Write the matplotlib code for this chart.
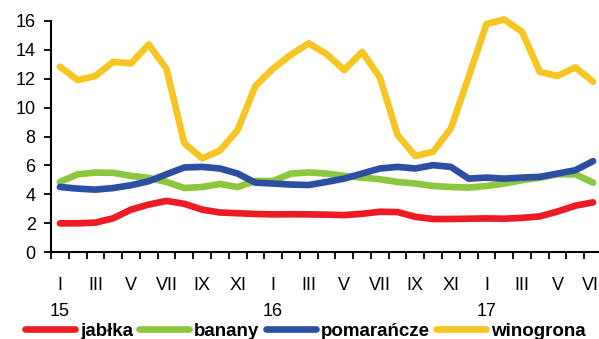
import matplotlib
matplotlib.use("Agg")
import matplotlib.pyplot as plt
from matplotlib.lines import Line2D

# ---- data ----
month_labels = ["I", "III", "V", "VII", "IX", "XI"] * 2 + ["I", "III", "V", "VII"]
year_labels = ["15", "16", "17"]
series_names = ["jabłka", "banany", "pomarańcze", "winogrona"]

jablka = [2.0, 2.0, 2.05, 2.35, 2.95, 3.3, 3.55, 3.35, 2.95, 2.75, 2.7, 2.65, 2.62, 2.63, 2.62,
          2.6, 2.57, 2.66, 2.8, 2.78, 2.45, 2.3, 2.3, 2.32, 2.34, 2.32, 2.38, 2.48, 2.82, 3.22, 3.45]
banany = [4.86, 5.39, 5.51, 5.49, 5.28, 5.14, 4.86, 4.44, 4.51, 4.72, 4.51, 4.93, 4.93, 5.44, 5.52,
          5.44, 5.28, 5.16, 5.05, 4.86, 4.75, 4.58, 4.51, 4.47, 4.58, 4.75, 4.98, 5.16, 5.39, 5.39, 4.81]
pomarancze = [4.51, 4.40, 4.33, 4.44, 4.63, 4.91, 5.39, 5.86, 5.90, 5.79, 5.44, 4.81, 4.75, 4.68, 4.65,
              4.86, 5.09, 5.44, 5.79, 5.90, 5.79, 6.02, 5.90, 5.09, 5.16, 5.09, 5.16, 5.21, 5.44, 5.67, 6.30]
winogrona = [12.82, 11.9, 12.18, 13.16, 13.05, 14.36, 12.66, 7.53, 6.49, 7.02, 8.45, 11.49, 12.7, 13.65, 14.43,
             13.7, 12.59, 13.85, 12.08, 8.1, 6.65, 6.95, 8.56, 12.13, 15.77, 16.09, 15.23, 12.47, 12.18, 12.78, 11.78]

colors = ["#ED1C24", "#8DC63F", "#2D4FA2", "#F6C521"]

plt.rcParams['font.family'] = ['Liberation Sans', 'DejaVu Sans']

fig = plt.figure(figsize=(5.99, 3.39), dpi=100)
W, H = 599, 339
left_px, right_px, top_px, bottom_px = 51, 602, 20.7, 252.3
ax = fig.add_axes([left_px / W, 1 - bottom_px / H, (right_px - left_px) / W, (bottom_px - top_px) / H])

n = len(jablka)
x = list(range(n))
for data, c in zip([jablka, banany, pomarancze, winogrona], colors):
    ax.plot(x, data, color=c, lw=4.8, solid_joinstyle='round', solid_capstyle='round', clip_on=False)

ax.set_xlim(-0.5, n - 0.5)
ax.set_ylim(0, 16)
ax.set_yticks(range(0, 17, 2))
ax.tick_params(axis='y', length=5, width=1.3, pad=6, labelsize=13, direction='out')

ax.set_xticks([i - 0.5 for i in range(n + 1)])
ax.set_xticklabels([])
ax.tick_params(axis='x', length=5, width=1.3, direction='out')

for sp in ['top', 'right']:
    ax.spines[sp].set_visible(False)
for sp in ['left', 'bottom']:
    ax.spines[sp].set_linewidth(1.5)
    ax.spines[sp].set_color('black')

# month labels and years
month_pos = list(range(0, n, 2))
for pos, lab in zip(month_pos, month_labels):
    ax.annotate(lab, xy=(pos, 0), xycoords=('data', 'axes fraction'),
                xytext=(0, -27), textcoords='offset points', ha='center', va='baseline', fontsize=13)
for k, lab in enumerate(year_labels):
    ax.annotate(lab, xy=(12 * k, 0), xycoords=('data', 'axes fraction'),
                xytext=(0, -45.7), textcoords='offset points', ha='center', va='baseline', fontsize=13)

handles = [Line2D([0], [0], color=c, lw=4.8, solid_capstyle='round') for c in colors]
fig.legend(handles, series_names, loc='center left', bbox_to_anchor=(25 / W, 8 / H), ncol=4,
           frameon=False, prop={'weight': 'bold', 'size': 13.5}, handlelength=2.67,
           handletextpad=0.27, columnspacing=0.32, borderpad=0, borderaxespad=0)

fig.savefig("out.png", dpi=100)
